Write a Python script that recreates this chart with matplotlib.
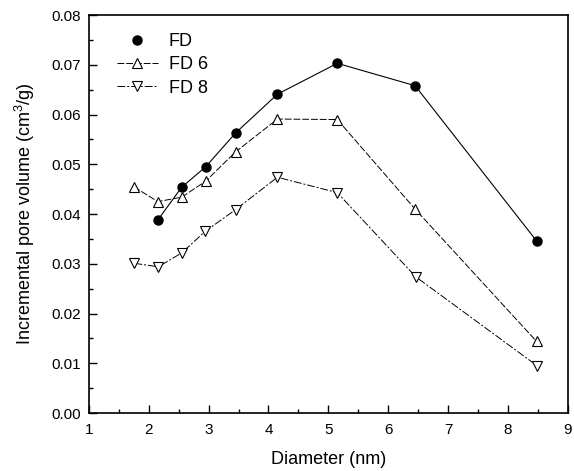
import matplotlib
matplotlib.use('Agg')
import matplotlib.pyplot as plt
from matplotlib.lines import Line2D
from matplotlib.ticker import MultipleLocator

plt.rcParams.update({
    'font.family': ['Liberation Sans', 'DejaVu Sans'],
    'font.size': 11,
    'xtick.direction': 'in',
    'ytick.direction': 'in',
    'axes.linewidth': 1.2,
    'mathtext.default': 'regular',
})

# values
diam_fd = [2.15, 2.55, 2.95, 3.45, 4.15, 5.15, 6.45, 8.48]
vol_fd = [0.0388, 0.0454, 0.0495, 0.0563, 0.0641, 0.0703, 0.0658, 0.0346]

diam_fd6 = [1.75, 2.15, 2.55, 2.95, 3.45, 4.15, 5.15, 6.45, 8.48]
vol_fd6 = [0.0455, 0.0425, 0.0434, 0.0466, 0.0525, 0.0591, 0.0590, 0.0410, 0.0144]

diam_fd8 = [1.76, 2.16, 2.55, 2.94, 3.45, 4.15, 5.15, 6.46, 8.49]
vol_fd8 = [0.0301, 0.0294, 0.0322, 0.0365, 0.0409, 0.0474, 0.0443, 0.0274, 0.0095]

fd6_style = dict(color='k', lw=0.7, ls=(0, (7, 2)), marker='^', ms=7, mfc='white', mec='k', mew=0.8)
fd8_style = dict(color='k', lw=0.7, ls=(0, (8, 2, 2, 2)), marker='v', ms=7, mfc='white', mec='k', mew=0.8)

fig = plt.figure(figsize=(5.74, 4.71), dpi=100)
ax = fig.add_axes([0.155, 0.123, 0.834, 0.845])

ax.plot(diam_fd, vol_fd, color='k', lw=0.8, marker='o', ms=6.5, mfc='k', mec='k')
ax.plot(diam_fd6, vol_fd6, **fd6_style)
ax.plot(diam_fd8, vol_fd8, **fd8_style)

ax.set_xlim(1, 9)
ax.set_ylim(0, 0.08)
ax.xaxis.set_major_locator(MultipleLocator(1))
ax.xaxis.set_minor_locator(MultipleLocator(0.5))
ax.yaxis.set_major_locator(MultipleLocator(0.01))
ax.yaxis.set_minor_locator(MultipleLocator(0.005))
ax.yaxis.set_major_formatter(plt.FormatStrFormatter('%.2f'))
ax.tick_params(which='major', length=6, width=1)
ax.tick_params(which='minor', length=3, width=1)
ax.tick_params(axis='y', labelsize=11, pad=6)
ax.tick_params(axis='x', labelsize=11, pad=7)

ax.set_xlabel('Diameter (nm)', fontsize=13, labelpad=10)
ax.set_ylabel('Incremental pore volume (cm$^3$/g)', fontsize=13, labelpad=10)

handles = [
    Line2D([], [], ls='none', marker='o', ms=6.5, mfc='k', mec='k'),
    Line2D([], [], **fd6_style),
    Line2D([], [], **fd8_style),
]
ax.legend(handles, ['FD', 'FD 6', 'FD 8'], loc='upper left', bbox_to_anchor=(0.02, 1.0),
          frameon=False, fontsize=13, handlelength=2.3, handletextpad=0.6,
          labelspacing=0.35, borderaxespad=0.6)

plt.savefig('out.png', dpi=100)
